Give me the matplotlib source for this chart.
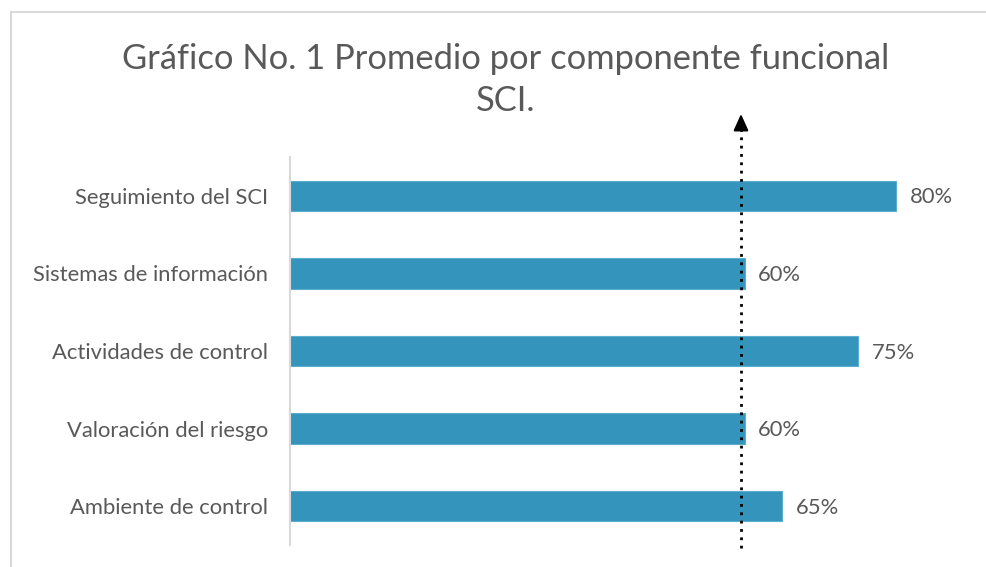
import matplotlib
matplotlib.use("Agg")
import matplotlib.pyplot as plt
from matplotlib.lines import Line2D

categories = ["Ambiente de control", "Valoración del riesgo", "Actividades de control",
              "Sistemas de información", "Seguimiento del SCI"]
values = [0.65, 0.60, 0.75, 0.60, 0.80]
value_labels = ["65%", "60%", "75%", "60%", "80%"]
title = "Gráfico No. 1 Promedio por componente funcional\nSCI."

plt.rcParams['font.family'] = ['Lato', 'DejaVu Sans']
W, H = 986, 567
fig = plt.figure(figsize=(W / 100, H / 100), dpi=100)

ax = fig.add_axes([290 / W, 1 - 545 / H, 681.75 / W, 388 / H])
bar_color = "#3594bb"
ax.barh(range(len(categories)), values, height=0.39, color=bar_color,
        edgecolor="#5aaed0", linewidth=0.8)
ax.set_xlim(0, 0.9)
ax.set_ylim(-0.5, len(categories) - 0.5)
ax.set_yticks(range(len(categories)))
ax.set_yticklabels(categories, fontsize=15.8, color="#595959")
ax.tick_params(axis='y', length=0, pad=15.5)
ax.set_xticks([])
for s in ["top", "right", "bottom"]:
    ax.spines[s].set_visible(False)
ax.spines["left"].set_color("#d9d9d9")
ax.spines["left"].set_linewidth(1.5)

for i, (v, lab) in enumerate(zip(values, value_labels)):
    ax.text(v + 0.018, i - 0.02, lab, va="center", ha="left", fontsize=15.8, color="#595959")

fig.text(506 / W, 1 - 80 / H, title, ha="center", va="center", fontsize=24.8,
         color="#595959", linespacing=1.4)

# chart frame
fig.add_artist(Line2D([11 / W, 1], [1 - 12 / H, 1 - 12 / H], color="#d9d9d9", lw=1.5,
                      transform=fig.transFigure))
fig.add_artist(Line2D([11 / W, 11 / W], [0, 1 - 12 / H], color="#d9d9d9", lw=1.5,
                      transform=fig.transFigure))

# dotted arrow
fig.add_artist(Line2D([741 / W, 741 / W], [1 - 548 / H, 1 - 128 / H], color="black",
                      lw=2, linestyle=(0, (1, 2)), transform=fig.transFigure))
ax.annotate("", xy=(741 / W, 1 - 114 / H), xytext=(741 / W, 1 - 130 / H),
            xycoords="figure fraction", textcoords="figure fraction",
            arrowprops=dict(arrowstyle="-|>,head_length=1.0,head_width=0.45",
                            color="black", lw=1.5, shrinkA=0, shrinkB=0))

fig.savefig("out.png", dpi=100)
